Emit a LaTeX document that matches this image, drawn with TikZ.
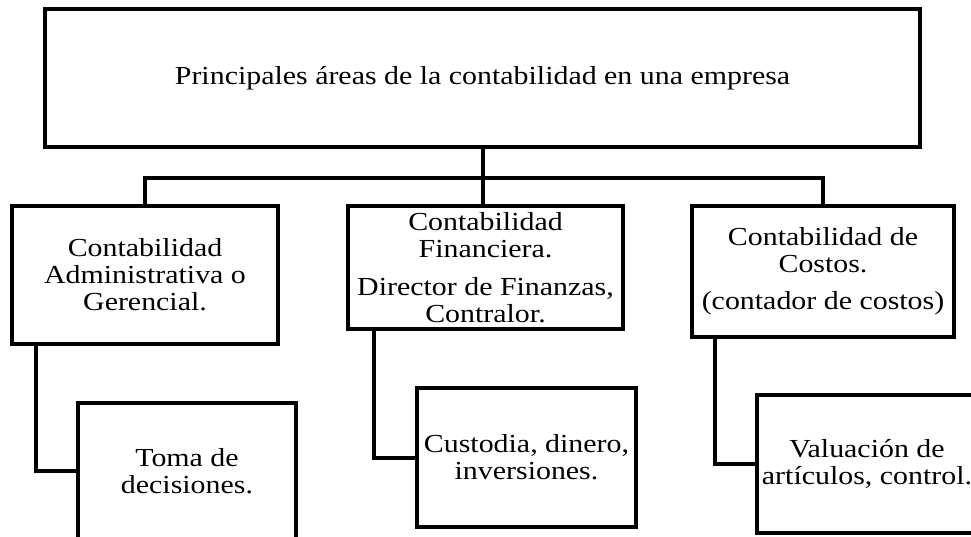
\documentclass[tikz,border=0pt]{standalone}
\usepackage{fontspec}
\setmainfont{Liberation Serif}[FakeStretch=1.15]
\usepackage{tikz}
\usetikzlibrary{positioning}
\newcommand{\areafont}{\fontsize{26}{27}\selectfont}

\begin{document}
\begin{tikzpicture}[
    x = 1pt,
    y = -1pt,
    area/.style =
    { draw,
      line width = 4pt,
      align      = center,
      inner sep  = 0pt,
      font       = \areafont },
    link/.style =
    { line width = 4pt }
  ]
  \clip (0,0) rectangle (971,537);

  \node[area, minimum width = 875pt, minimum height = 138pt] (main) at (482.5,78)
    {Principales áreas de la contabilidad en una empresa};

  \node[area, minimum width = 266pt, minimum height = 138pt] (admin) at (145,275)
    {Contabilidad\\Administrativa o\\Gerencial.};
  \node[area, minimum width = 275pt, minimum height = 123pt] (financ) at (485.5,267.5)
    {Contabilidad\\Financiera.\\[11pt]Director de Finanzas,\\Contralor.};
  \node[area, minimum width = 262pt, minimum height = 131pt] (costos) at (823,271.5)
    {Contabilidad de\\Costos.\\[10pt](contador de costos)};

  \node[area, minimum width = 218pt, minimum height = 136pt] (toma) at (187,471)
    {Toma de\\decisiones.};
  \node[area, minimum width = 219pt, minimum height = 139pt] (custodia) at (526.5,457.5)
    {Custodia, dinero,\\inversiones.};
  \node[area, minimum width = 220pt, minimum height = 138pt] (valuacion) at (867,464)
    {Valuación de\\artículos, control.};

  \coordinate (bus) at (483,178);

  \draw[link] (main.south) -- (main.south |- financ.north);
  \draw[link] (admin.north) |- (bus) -| (costos.north);
  \draw[link] ([xshift = 26pt]admin.south west) |- (toma.west);
  \draw[link] ([xshift = 28pt]financ.south west) |- (custodia.west);
  \draw[link] ([xshift = 25pt]costos.south west) |- (valuacion.west);
\end{tikzpicture}
\end{document}
